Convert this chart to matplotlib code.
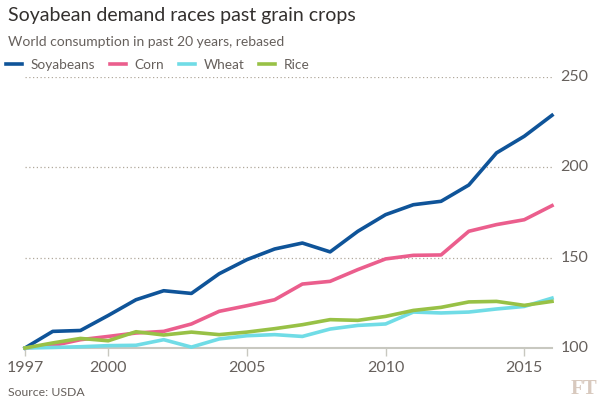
import matplotlib
matplotlib.use("Agg")
import matplotlib.pyplot as plt
from matplotlib.lines import Line2D

years = list(range(1997, 2017))
soyabeans = [100, 109.2, 109.7, 118, 126.7, 131.7, 130.2, 141.1, 148.9, 154.8, 158.1,
             153.2, 164.6, 173.8, 179.3, 181.2, 190.2, 208, 217.2, 228.8]
corn = [100, 101.3, 104.6, 106.4, 108.3, 109.2, 113.3, 120.3, 123.4, 126.7, 135.4,
        136.9, 143.4, 149.3, 151.3, 151.5, 164.6, 168.3, 171, 178.8]
wheat = [100, 100.3, 100.7, 101.3, 101.5, 104.6, 100.5, 105, 106.8, 107.4, 106.4,
         110.5, 112.5, 113.3, 119.9, 119.4, 119.9, 121.6, 123, 127.6]
rice = [100, 102.8, 105.3, 104, 109, 107.2, 108.8, 107.4, 108.8, 110.7, 112.9,
        115.7, 115.3, 117.5, 120.8, 122.5, 125.5, 125.8, 123.6, 125.8]

series_names = ["Soyabeans", "Corn", "Wheat", "Rice"]
series_values = [soyabeans, corn, wheat, rice]
colors = ["#0f5499", "#eb5e8d", "#70dce6", "#98c146"]
xticks = [1997, 2000, 2005, 2010, 2015]
yticks = [100, 150, 200, 250]

plt.rcParams['font.family'] = ['Lato', 'DejaVu Sans']

fig = plt.figure(figsize=(6, 4), dpi=100, facecolor="white")
ax = fig.add_axes([25/600, 1-348/400, (552-25)/600, (348-77)/400])
ax.set_facecolor("white")

for name, vals, c in zip(series_names, series_values, colors):
    ax.plot(years, vals, color=c, lw=2.6, solid_joinstyle="round", clip_on=False, zorder=3)

ax.set_xlim(1997, 2016)
ax.set_ylim(100, 250)
for s in ["top", "left", "right"]:
    ax.spines[s].set_visible(False)
ax.spines["bottom"].set_color("#c8c8c0")
ax.spines["bottom"].set_linewidth(1.5)
ax.spines["bottom"].set_zorder(2)

ax.set_xticks(xticks)
ax.set_xticklabels([str(x) for x in xticks])
ax.tick_params(axis="x", length=6, width=1, color="#c8c8c0", labelsize=11.5,
               labelcolor="#66605c", pad=3)

ax.yaxis.tick_right()
ax.set_yticks(yticks)
ax.set_yticklabels([str(y) for y in yticks])
ax.tick_params(axis="y", length=0, labelsize=11.5, labelcolor="#66605c", pad=6)
for lab in ax.get_yticklabels():
    lab.set_verticalalignment("center")

for y in yticks[1:]:
    ax.axhline(y, color="#b0a89c", lw=0.9, ls=(0, (1, 2)), zorder=1)

fig.text(8/600, 1-15/400, "Soyabean demand races past grain crops", fontsize=14,
         color="#33302e", va="center", ha="left")
fig.text(8/600, 1-42/400, "World consumption in past 20 years, rebased", fontsize=10,
         color="#66605c", va="center", ha="left")

handles = [Line2D([0], [0], color=c, lw=2.6) for c in colors]
leg = fig.legend(handles, series_names, loc="center left", bbox_to_anchor=(6/600, 1-65/400),
                 ncol=4, frameon=False, fontsize=9.8, handlelength=1.15, handletextpad=0.65,
                 columnspacing=1.1, borderaxespad=0, borderpad=0.0)
for t in leg.get_texts():
    t.set_color("#66605c")

fig.text(8/600, 1-392/400, "Source: USDA", fontsize=8.8, color="#66605c", va="center", ha="left")
fig.text(597/600, 1-389/400, "FT", fontsize=15, color="#d8c9be", va="center", ha="right",
         family=["Liberation Serif", "DejaVu Serif"], fontweight="bold")

fig.savefig("out.png", dpi=100, facecolor="white")
